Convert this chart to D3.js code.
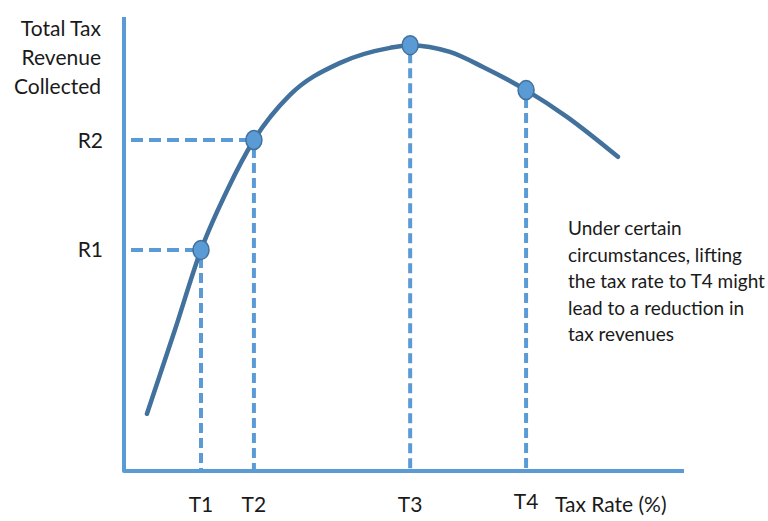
<!DOCTYPE html>
<html>
<head>
<meta charset="utf-8">
<script src="https://cdn.jsdelivr.net/npm/d3@7"></script>
<style>
  html, body { margin: 0; padding: 0; background: #ffffff; }
  svg { display: block; }
  text { font-family: Lato, "Open Sans", sans-serif; fill: #1a1a1a; }
</style>
</head>
<body>
<svg id="chart" width="768" height="521"></svg>
<script>
// Laffer curve: tax rate (0-100) vs total tax revenue (0-100)
const curveRate    = [4.1, 9.1, 13.75, 18.6, 23.2, 29.6, 38.6, 47.5, 51.1, 58.2, 64.1, 71.8, 79.1, 88.2];
const curveRevenue = [12.6, 31.1, 48.7, 62.3, 72.9, 82.8, 89.9, 93.2, 93.8, 92.3, 89.0, 83.9, 78.0, 69.2];

const markLabels  = ["T1", "T2", "T3", "T4"];
const markRate    = [13.75, 23.2, 51.1, 71.8];
const markRevenue = [48.7, 72.9, 93.8, 83.9];

const revenueLabels = ["R1", "R2"];
const revenueMarks  = [0, 1];   // indices of marks that get a horizontal guide

const yTitle = ["Total Tax", "Revenue", "Collected"];
const xTitle = "Tax Rate (%)";
const note = ["Under certain", "circumstances, lifting", "the tax rate to T4 might", "lead to a reduction in", "tax revenues"];

const svg = d3.select("#chart");
const x = d3.scaleLinear().domain([0, 100]).range([124, 684]);
const y = d3.scaleLinear().domain([0, 100]).range([471, 17]);

const axisColor = "#5b9bd5";
const curveColor = "#41719c";

// axes as plain L-shaped frame
svg.append("path")
  .attr("d", `M${x(0)},${y(100)} L${x(0)},${y(0)} L${x(100)},${y(0)}`)
  .attr("fill", "none")
  .attr("stroke", axisColor)
  .attr("stroke-width", 4)
  .attr("stroke-linejoin", "round");

// dashed guides
const guides = svg.append("g")
  .attr("stroke", axisColor)
  .attr("stroke-width", 4)
  .attr("fill", "none");

markRate.forEach((r, i) => {
  guides.append("line")
    .attr("x1", x(r)).attr("x2", x(r))
    .attr("y1", y(markRevenue[i]) + 8).attr("y2", y(0) - 2)
    .attr("stroke-dasharray", "10,5");
});
revenueMarks.forEach(i => {
  guides.append("line")
    .attr("x1", x(0) + 7).attr("x2", x(markRate[i]) - 6)
    .attr("y1", y(markRevenue[i])).attr("y2", y(markRevenue[i]))
    .attr("stroke-dasharray", "12,6");
});

// curve
const pts = curveRate.map((r, i) => [r, curveRevenue[i]]);
svg.append("path")
  .datum(pts)
  .attr("d", d3.line().x(d => x(d[0])).y(d => y(d[1])).curve(d3.curveMonotoneX))
  .attr("fill", "none")
  .attr("stroke", curveColor)
  .attr("stroke-width", 4.5)
  .attr("stroke-linecap", "round");

// points
svg.append("g").selectAll("ellipse")
  .data(markRate)
  .join("ellipse")
  .attr("cx", (d) => x(d))
  .attr("cy", (d, i) => y(markRevenue[i]))
  .attr("rx", 8)
  .attr("ry", 9.5)
  .attr("fill", "#5b9bd5")
  .attr("stroke", curveColor)
  .attr("stroke-width", 1.5);

// x labels
svg.append("g").selectAll("text")
  .data(markLabels)
  .join("text")
  .attr("x", (d, i) => x(markRate[i]))
  .attr("y", (d, i) => i === 3 ? 509 : 512)
  .attr("text-anchor", "middle")
  .attr("font-size", 21)
  .text(d => d);

svg.append("text")
  .attr("x", 555).attr("y", 512)
  .attr("font-size", 21)
  .text(xTitle);

// y labels
svg.append("g").selectAll("text")
  .data(revenueLabels)
  .join("text")
  .attr("x", 103)
  .attr("y", (d, i) => y(markRevenue[revenueMarks[i]]) + 7.5)
  .attr("text-anchor", "end")
  .attr("font-size", 21)
  .text(d => d);

svg.append("g").selectAll("text")
  .data(yTitle)
  .join("text")
  .attr("x", 101)
  .attr("y", (d, i) => 36 + i * 29)
  .attr("text-anchor", "end")
  .attr("font-size", 21)
  .text(d => d);

// annotation
svg.append("g").selectAll("text")
  .data(note)
  .join("text")
  .attr("x", 568)
  .attr("y", (d, i) => 235 + i * 26.5)
  .attr("font-size", 19)
  .text(d => d);
</script>
</body>
</html>
